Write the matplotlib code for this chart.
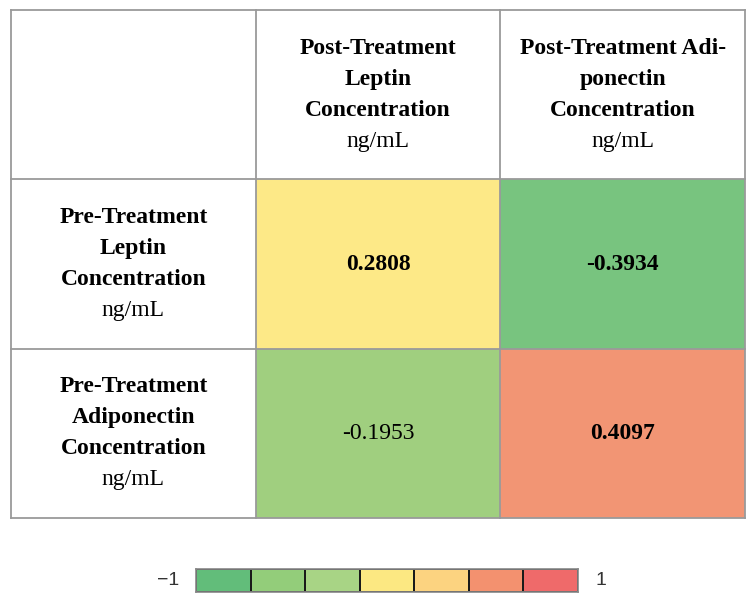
import numpy as np
import matplotlib
matplotlib.use('Agg')
from matplotlib import pyplot as plt
from matplotlib.colors import ListedColormap
from matplotlib.patches import Rectangle

# data
col_labels = ['Post-Treatment\nLeptin\nConcentration', 'Post-Treatment Adi-\nponectin\nConcentration']
row_labels = ['Pre-Treatment\nLeptin\nConcentration', 'Pre-Treatment\nAdiponectin\nConcentration']
unit = 'ng/mL'
corr = np.array([[0.2808, -0.3934],
                 [-0.1953, 0.4097]])
bold_cells = np.array([[True, True],
                       [False, True]])

# colours
cell_colors = [['#fde987', '#78c47f'],
               ['#a0cf7f', '#f29574']]
scale_colors = ['#62bd7a', '#93cd7a', '#a8d485', '#fce882', '#fcd380', '#f3916f', '#ef6a6a']
grid_col = '#9a9a9a'

W, H = 752, 607
fig = plt.figure(figsize=(W / 100, H / 100), dpi=100)

serif = 'Liberation Serif'
fs = 17

# table axes, 3x3 grid (header row/col + 2x2 values)
ax = fig.add_axes([11 / W, 1 - 518 / H, (745 - 11) / W, (518 - 10) / H])
nr, nc = corr.shape
ax.set_xlim(0, nc + 1)
ax.set_ylim(nr + 1, 0)
ax.axis('off')

for i in range(nr):
    for j in range(nc):
        ax.add_patch(Rectangle((j + 1, i + 1), 1, 1, facecolor=cell_colors[i][j], edgecolor='none'))
        ax.text(j + 1.5, i + 1.5, f'{corr[i, j]:.4f}', ha='center', va='center',
                fontsize=fs, family=serif, fontweight='bold' if bold_cells[i, j] else 'normal')

# grid lines
for k in range(nc + 2):
    ax.plot([k, k], [0, nr + 1], color=grid_col, lw=1.3, clip_on=False)
for k in range(nr + 2):
    ax.plot([0, nc + 1], [k, k], color=grid_col, lw=1.3, clip_on=False)

def header(x, y, title):
    n = title.count('\n') + 1
    lh = 0.183
    y0 = y - lh * n / 2
    for m, line in enumerate(title.split('\n')):
        ax.text(x, y0 + lh * m, line, ha='center', va='center', fontsize=fs,
                family=serif, fontweight='bold')
    ax.text(x, y0 + lh * n, unit, ha='center', va='center', fontsize=fs, family=serif)

for j, lab in enumerate(col_labels):
    header(j + 1.5, 0.5, lab)
for i, lab in enumerate(row_labels):
    header(0.5, i + 1.5, lab)

# colour scale
cax = fig.add_axes([196 / W, 1 - 592 / H, (578 - 196) / W, 23 / H])
ncol = len(scale_colors)
cmap = ListedColormap(scale_colors)
cax.pcolormesh(np.linspace(-1, 1, ncol + 1), [0, 1], np.arange(ncol).reshape(1, -1),
               cmap=cmap, edgecolor='#1a1a1a', linewidth=1.2)
cax.set_xlim(-1, 1)
cax.set_ylim(0, 1)
cax.set_xticks([])
cax.set_yticks([])
for s in cax.spines.values():
    s.set_color('#888888')
    s.set_linewidth(1.2)
cax.text(-0.045, 0.5, '\u22121', transform=cax.transAxes, ha='right', va='center',
         fontsize=14, family='Liberation Sans', color='#333333')
cax.text(1.045, 0.5, '1', transform=cax.transAxes, ha='left', va='center',
         fontsize=14, family='Liberation Sans', color='#333333')

fig.savefig('out.png', dpi=100)
